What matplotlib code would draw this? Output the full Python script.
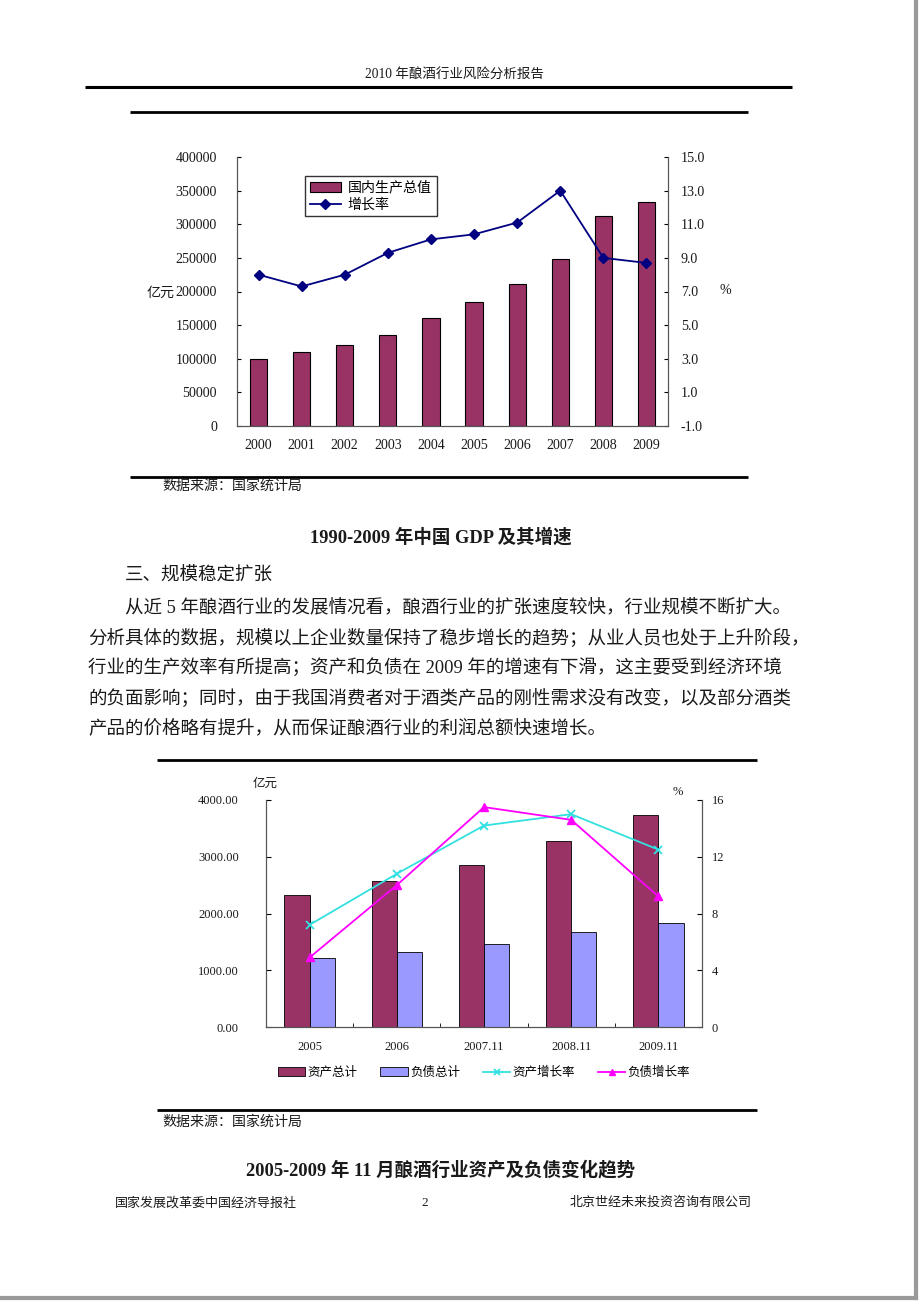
import matplotlib
matplotlib.use("Agg")
import matplotlib.pyplot as plt
import numpy as np
from matplotlib.ticker import FormatStrFormatter

# ---- data: chart 1 (GDP) ----
gdp_years = ["2000", "2001", "2002", "2003", "2004", "2005", "2006", "2007", "2008", "2009"]
gdp_value = [99200, 109700, 120300, 135800, 159900, 184900, 210500, 248000, 312500, 333500]
gdp_growth = [8.0, 7.3, 8.0, 9.3, 10.1, 10.4, 11.1, 13.0, 9.0, 8.7]

# ---- data: chart 2 (assets / liabilities) ----
al_periods = ["2005", "2006", "2007.11", "2008.11", "2009.11"]
assets = [2325, 2565, 2852, 3285, 3731]
liabilities = [1224, 1318, 1458, 1669, 1827]
asset_growth = [7.2, 10.8, 14.2, 15.0, 12.5]
liab_growth = [4.9, 10.0, 15.5, 14.6, 9.2]

W, H = 920, 1301
SERIF = ["Liberation Serif", "Noto Sans CJK SC"]
CJK = ["Noto Sans CJK SC", "DejaVu Sans"]
INK = "#1a1a1a"


def pt(px):
    return px * 0.72


def rect(l, t, r, b):
    return [l / W, 1 - b / H, (r - l) / W, (b - t) / H]


fig = plt.figure(figsize=(W / 100, H / 100), dpi=100)
bg = fig.add_axes([0, 0, 1, 1])
bg.set_xlim(0, W); bg.set_ylim(H, 0); bg.axis("off")


def txt(x, y, s, px=14, ha="left", fam=SERIF, bold=False):
    bg.text(x, y, s, fontsize=pt(px), ha=ha, va="center", family=fam, color=INK,
            fontweight="bold" if bold else "normal")


def hline(x0, x1, y, lw=2.0, c="black"):
    bg.plot([x0, x1], [y, y], color=c, lw=lw, solid_capstyle="butt")


# ---- page furniture ----
txt(454, 75, "2010 年酿酒行业风险分析报告", 13.5, ha="center")
hline(85, 792, 87, 2.2)
hline(130, 748, 112, 2.0)
hline(130, 748, 477, 2.0)
txt(162, 486, "数据来源：国家统计局", 14, fam=CJK)
txt(441, 537, "1990-2009 年中国 GDP 及其增速", 18.5, ha="center", bold=True)
txt(125, 576, "三、规模稳定扩张", 18.5)
para = [(125, "从近 5 年酿酒行业的发展情况看，酿酒行业的扩张速度较快，行业规模不断扩大。"),
        (88, "分析具体的数据，规模以上企业数量保持了稳步增长的趋势；从业人员也处于上升阶段，"),
        (88, "行业的生产效率有所提高；资产和负债在 2009 年的增速有下滑，这主要受到经济环境"),
        (88, "的负面影响；同时，由于我国消费者对于酒类产品的刚性需求没有改变，以及部分酒类"),
        (88, "产品的价格略有提升，从而保证酿酒行业的利润总额快速增长。")]
for i, (x, s) in enumerate(para):
    txt(x, 608 + 30 * i, s, 18.5)
hline(157, 757, 760, 2.0)
hline(157, 757, 1110, 2.0)
txt(162, 1122, "数据来源：国家统计局", 14, fam=CJK)
txt(441, 1170, "2005-2009 年 11 月酿酒行业资产及负债变化趋势", 18.5, ha="center", bold=True)
txt(115, 1203, "国家发展改革委中国经济导报社", 13)
txt(425, 1203, "2", 13, ha="center")
txt(752, 1203, "北京世经未来投资咨询有限公司", 13, ha="right")
bg.plot([916, 916], [0, 1298], color="#9a9a9a", lw=3)
bg.plot([0, 916], [1298, 1298], color="#9a9a9a", lw=3)

# ---- chart 1 ----
ax1 = fig.add_axes(rect(237, 157, 668, 426))
x1 = np.arange(len(gdp_years))
ax1.bar(x1, gdp_value, width=0.4, color="#993366", edgecolor="black", lw=0.8, label="国内生产总值")
ax1.set_xlim(-0.5, len(gdp_years) - 0.5)
ax1.set_ylim(0, 400000)
ax1.set_yticks(np.arange(0, 400001, 50000))
ax1.set_xticks(x1, gdp_years)
ax1.tick_params(axis="x", length=0, pad=pt(13))
ax1.tick_params(axis="y", length=3, direction="in", pad=pt(20))
ax1b = ax1.twinx()
ax1b.plot(x1, gdp_growth, color="#000080", marker="D", ms=5, lw=1.3, label="增长率")
ax1b.set_ylim(-1, 15)
ax1b.set_yticks(np.arange(-1, 15.1, 2))
ax1b.yaxis.set_major_formatter(FormatStrFormatter("%.1f"))
ax1b.tick_params(axis="y", length=3, direction="in", pad=pt(13))
for a in (ax1, ax1b):
    a.spines["top"].set_visible(False)
    for s in ("left", "right", "bottom"):
        a.spines[s].set_color("#555555")
    for lab in a.get_xticklabels() + a.get_yticklabels():
        lab.set_family(SERIF); lab.set_fontsize(pt(14)); lab.set_color(INK)
h1, l1 = ax1.get_legend_handles_labels()
h2, l2 = ax1b.get_legend_handles_labels()
ax1b.legend(h1 + h2, l1 + l2, loc="upper left", bbox_to_anchor=(0.158, 0.93),
            borderaxespad=0, frameon=True, fancybox=False, edgecolor="black", borderpad=0.35,
            handlelength=2.2, handletextpad=0.5, labelspacing=0.2,
            prop={"family": CJK, "size": pt(14)})
txt(147, 293, "亿元", 14, fam=CJK)
txt(720, 290, "%", 14)

# ---- chart 2 ----
ax2 = fig.add_axes(rect(266, 800, 702, 1027))
x2 = np.arange(len(al_periods))
bw = 0.29
ax2.bar(x2 - bw / 2, assets, width=bw, color="#993366", edgecolor="black", lw=0.6, label="资产总计")
ax2.bar(x2 + bw / 2, liabilities, width=bw, color="#9999FF", edgecolor="black", lw=0.6, label="负债总计")
ax2.set_xlim(-0.5, len(al_periods) - 0.5)
ax2.set_ylim(0, 4000)
ax2.set_yticks(np.arange(0, 4001, 1000))
ax2.yaxis.set_major_formatter(FormatStrFormatter("%.2f"))
ax2.set_xticks(x2, al_periods)
ax2.set_xticks(np.arange(0.5, len(al_periods) - 1, 1), minor=True)
ax2.tick_params(axis="x", which="major", length=0, pad=pt(14))
ax2.tick_params(axis="x", which="minor", length=3, direction="in")
ax2.tick_params(axis="y", length=3.5, direction="in", pad=pt(27))
ax2b = ax2.twinx()
ax2b.plot(x2, asset_growth, color="#33E0E0", marker="x", ms=6, mew=1.3, lw=1.3, label="资产增长率")
ax2b.plot(x2, liab_growth, color="#FF00FF", marker="^", ms=6, lw=1.3, label="负债增长率")
ax2b.set_ylim(0, 16)
ax2b.set_yticks(np.arange(0, 17, 4))
ax2b.tick_params(axis="y", length=3.5, direction="in", pad=pt(10))
for a in (ax2, ax2b):
    a.spines["top"].set_visible(False)
    for s in ("left", "right", "bottom"):
        a.spines[s].set_color("#555555")
    for lab in a.get_xticklabels() + a.get_yticklabels():
        lab.set_family(SERIF); lab.set_fontsize(pt(12.5)); lab.set_color(INK)
h1, l1 = ax2.get_legend_handles_labels()
h2, l2 = ax2b.get_legend_handles_labels()
ax2b.legend(h1 + h2, l1 + l2, loc="center", bbox_to_anchor=(0.5, -0.2), ncol=4,
            borderaxespad=0, frameon=False, handlelength=2.2, handletextpad=0.2,
            columnspacing=1.8, markerscale=0.8,
            prop={"family": CJK, "size": pt(12.5)})
txt(253, 783, "亿元", 12.5, fam=CJK)
txt(673, 792, "%", 12.5)

fig.savefig("out.png", dpi=100)
